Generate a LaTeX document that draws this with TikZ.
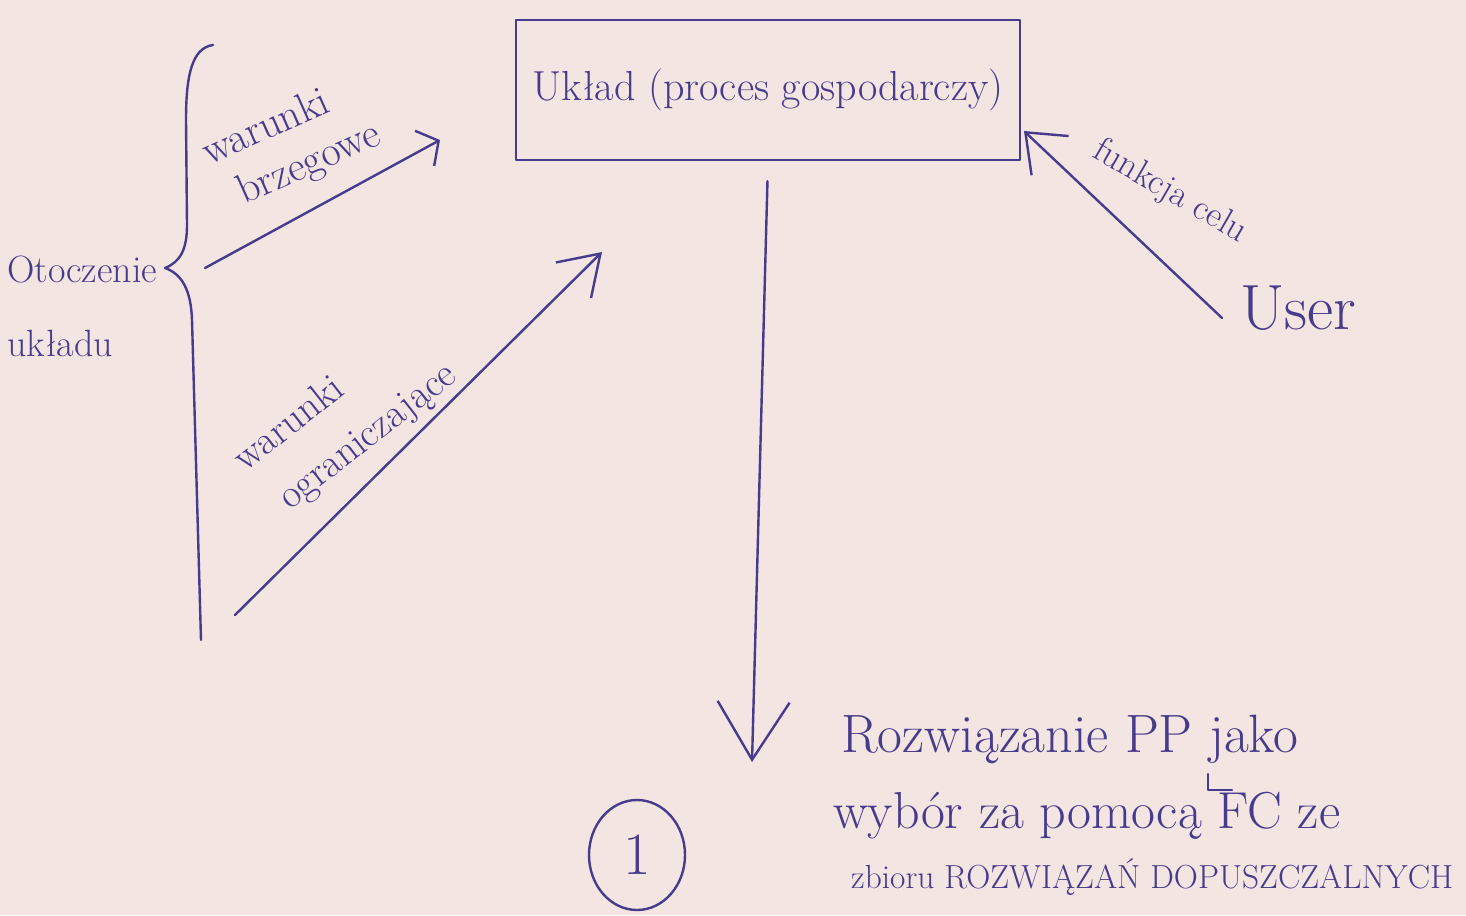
\documentclass[tikz,border=0pt]{standalone}
\usepackage{fontspec}
\usetikzlibrary{arrows.meta,shapes.geometric}
\definecolor{ink}{RGB}{72,58,140}
\definecolor{paper}{RGB}{243,229,225}
\begin{document}
\begin{tikzpicture}[x=0.5pt,y=-0.5pt, line width=1.2pt, line cap=round, line join=round,
  every node/.style={text=ink, inner sep=0pt},
  ink line/.style={draw=ink},
  lbl/.style={align=left, font=\fontsize{21}{25}\selectfont},
  headA/.style={-{Straight Barb[length=8pt,width=20pt]}},
  headB/.style={-{Straight Barb[length=19pt,width=25pt]}},
  headU/.style={-{Straight Barb[length=17pt,width=27pt]}},
  headV/.style={-{Straight Barb[length=29pt,width=36pt]}}]
\fill[paper] (0,0) rectangle (1466,915);
\useasboundingbox (0,0) rectangle (1466,915);

% main box
\node[draw=ink, minimum width=252pt, minimum height=70pt, font=\fontsize{21}{24}\selectfont] (box) at (768,90) {Układ (proces gospodarczy)};

% brace with "Otoczenie układu"
\coordinate (brtip) at (165,268);
\draw[ink line] (213,45) .. controls (192,48) and (186,75) .. (186,120) -- (187,225) .. controls (187,250) and (180,262) .. (brtip) .. controls (182,274) and (191,290) .. (192,320) -- (201,640);
\node[anchor=west, align=left, font=\fontsize{19}{37}\selectfont] (oto) at (6,306) {Otoczenie\\układu};

% warunki brzegowe
\coordinate (a1s) at (205,268);
\coordinate (a1e) at (440,140);
\draw[ink line, headA] (a1s) -- (a1e);
\node[lbl, rotate=24] (wb) at (292,145) {warunki\\\hspace*{8pt}brzegowe};

% warunki ograniczające
\coordinate (a2s) at (235,615);
\coordinate (a2e) at (602,252);
\draw[ink line, headB] (a2s) -- (a2e);
\node[lbl, rotate=38, font=\fontsize{20}{29}\selectfont] (wo) at (346,418) {warunki\\\hspace*{6pt}ograniczające};

% vertical arrow to result
\coordinate (vend) at (752,762);
\draw[ink line, headV, shorten <=10pt] (box.south) -- (vend);

% user and objective function
\node[font=\fontsize{32}{34}\selectfont] (user) at (1298,308) {User};
\coordinate (ustart) at (1222,318);
\coordinate (uend) at (1024,131);
\draw[ink line, headU] (ustart) -- (uend);
\node[font=\fontsize{18}{20}\selectfont, rotate=-30] (fc) at (1170,192) {funkcja celu};

% circled 1
\node[draw=ink, ellipse, minimum width=48pt, minimum height=55pt, font=\fontsize{30}{30}\selectfont] (one) at (637,855) {1};

% result text
\node[anchor=base west, font=\fontsize{27}{30}\selectfont] (roz1) at (840,752) {Rozwiązanie PP jako};
\node[anchor=base west, font=\fontsize{26}{30}\selectfont] (roz2) at (832,828) {wybór za pomocą FC ze};
\node[anchor=base west, font=\fontsize{16.7}{20}\selectfont] (roz3) at (850,888) {zbioru ROZWIĄZAŃ DOPUSZCZALNYCH};
\draw[ink line] (1208,774) -- (1208,790) -- (1232,790);
\end{tikzpicture}
\end{document}
